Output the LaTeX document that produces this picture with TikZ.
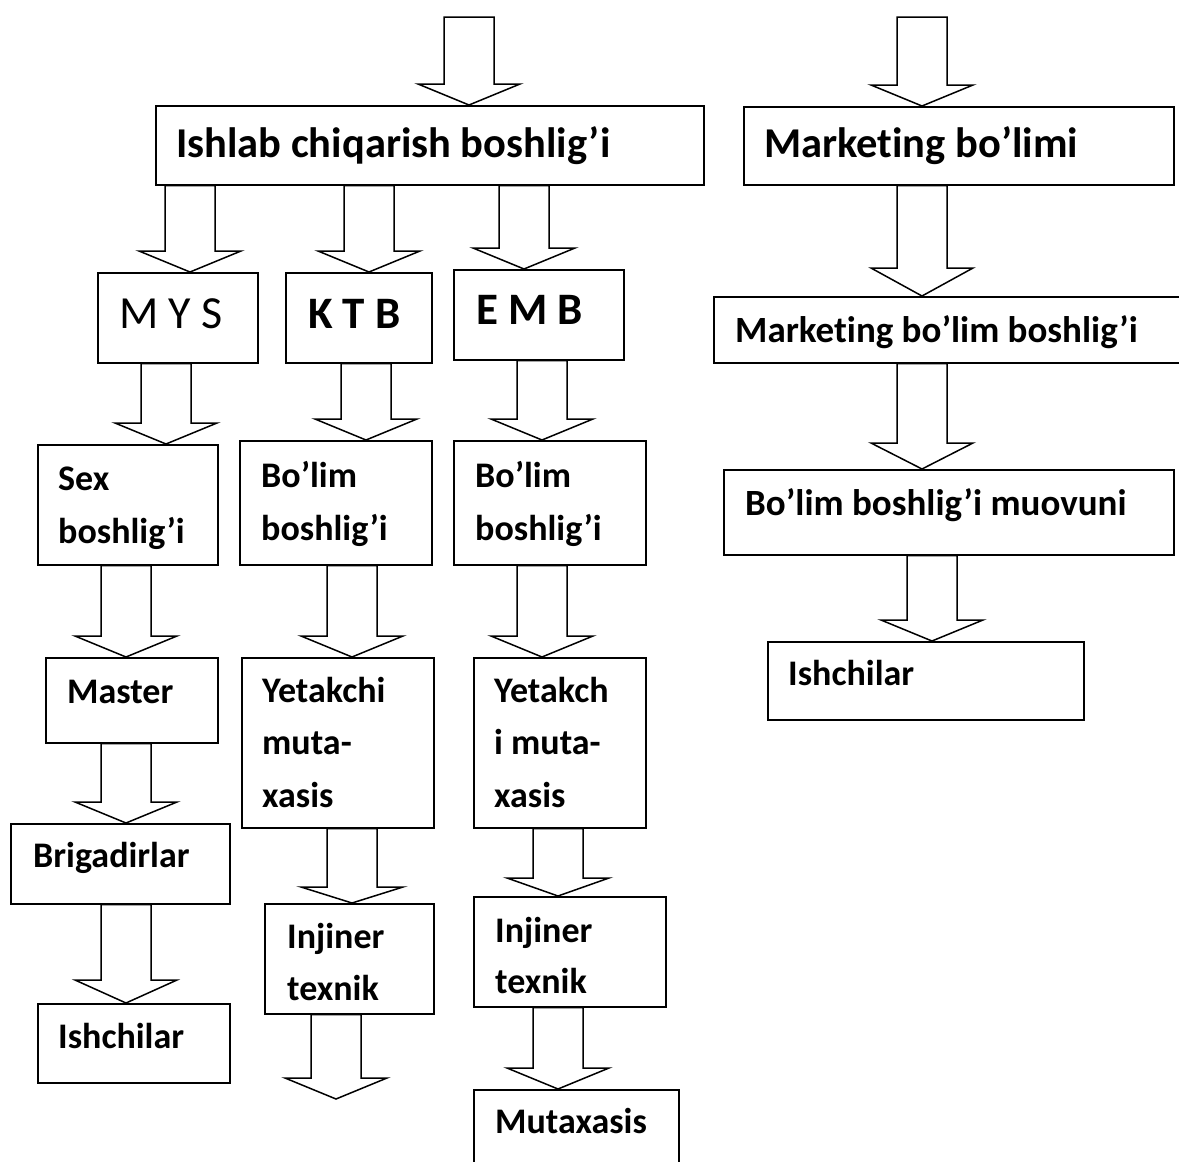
\documentclass[tikz,border=0pt]{standalone}
\usepackage{fontspec}
\setmainfont{Carlito}[RawFeature=-liga]
\usetikzlibrary{calc}

\tikzset{
  box/.style={draw=black, line width=1.5pt, fill=white, rectangle, inner sep=0pt, anchor=north west},
  blockarrow/.style={draw=black, line width=1.5pt, fill=white, line join=miter},
  lbl/.style={anchor=base west, inner sep=0pt, font=\fontsize{36}{40}\selectfont\bfseries},
  title/.style={lbl, font=\fontsize{42.5}{48}\selectfont\bfseries},
  mid/.style={lbl, font=\fontsize{37}{42}\selectfont\bfseries},
  code/.style={lbl, font=\fontsize{46}{52}\selectfont},
  boldcode/.style={lbl, font=\fontsize{45}{52}\selectfont\bfseries}
}

% box: name, left, top, right, bottom
\newcommand\orgbox[5]{%
  \node[box, minimum width={(#4-#2)*1pt}, minimum height={(#5-#3)*1pt}] (#1) at (#2,#3) {};}

% hollow block arrow: [head length] shaft centre x, start point, tip point
\newcommand\barrow[4][21]{%
  \draw[blockarrow] let \p1=(#3), \p2=(#4) in
    ({#2pt-25pt},\y1) -- ({#2pt-25pt},\y2+#1pt) -- ({#2pt-51pt},\y2+#1pt) --
    (#2pt,\y2) -- ({#2pt+51pt},\y2+#1pt) -- ({#2pt+25pt},\y2+#1pt) --
    ({#2pt+25pt},\y1) -- cycle;}

\begin{document}
\begin{tikzpicture}[x=1pt, y=-1pt]
\clip (0,0) rectangle (1179,1162);
\fill[white] (0,0) rectangle (1179,1162);

% free ends of the open arrows
\coordinate (inL) at (469,17);
\coordinate (inR) at (922,17);
\coordinate (outK) at (336,1099);

% boxes
\orgbox{ishlab}{155}{105}{703}{184}
\orgbox{mkt}{743}{106}{1173}{184}
\orgbox{mktb}{713}{296}{1190}{362}
\orgbox{muov}{723}{469}{1173}{554}
\orgbox{ishR}{767}{641}{1083}{719}
\orgbox{mys}{97}{272}{257}{362}
\orgbox{ktb}{285}{272}{431}{362}
\orgbox{emb}{453}{269}{623}{359}
\orgbox{sex}{37}{444}{217}{564}
\orgbox{bolK}{239}{440}{431}{564}
\orgbox{bolE}{453}{440}{645}{564}
\orgbox{master}{45}{657}{217}{742}
\orgbox{yetK}{241}{657}{433}{827}
\orgbox{yetE}{473}{657}{645}{827}
\orgbox{brig}{10}{823}{229}{903}
\orgbox{injK}{264}{903}{433}{1013}
\orgbox{injE}{473}{896}{665}{1006}
\orgbox{ishL}{37}{1003}{229}{1082}
\orgbox{mut}{473}{1089}{678}{1180}

% texts
\node[title] (t-ishlab) at (176,157) {Ishlab chiqarish boshlig’i};
\node[title] (t-mkt) at (764,157) {Marketing bo’limi};
\node[mid] (t-mktb) at (735,342) {Marketing bo’lim boshlig’i};
\node[mid] (t-muov) at (745,515) {Bo’lim boshlig’i muovuni};
\node[lbl] (t-ishR) at (788,685) {Ishchilar};
\node[code] (t-mys) at (119,328) {M Y S};
\node[boldcode] (t-ktb) at (308,328) {K T B};
\node[boldcode] (t-emb) at (476,324) {E M B};
\node[lbl] (t-sex1) at (58,490) {Sex};
\node[lbl] (t-sex2) at (58,543) {boshlig’i};
\node[lbl] (t-bolK1) at (261,487) {Bo’lim};
\node[lbl] (t-bolK2) at (261,540) {boshlig’i};
\node[lbl] (t-bolE1) at (475,487) {Bo’lim};
\node[lbl] (t-bolE2) at (475,540) {boshlig’i};
\node[lbl] (t-master) at (67,703) {Master};
\node[lbl] (t-yetK1) at (262,702) {Yetakchi};
\node[lbl] (t-yetK2) at (262,754) {muta-};
\node[lbl] (t-yetK3) at (262,807) {xasis};
\node[lbl] (t-yetE1) at (494,702) {Yetakch};
\node[lbl] (t-yetE2) at (494,754) {i muta-};
\node[lbl] (t-yetE3) at (494,807) {xasis};
\node[lbl] (t-brig) at (33,867) {Brigadirlar};
\node[lbl] (t-injK1) at (287,948) {Injiner};
\node[lbl] (t-injK2) at (287,1000) {texnik};
\node[lbl] (t-injE1) at (495,942) {Injiner};
\node[lbl] (t-injE2) at (495,993) {texnik};
\node[lbl] (t-ishL) at (58,1048) {Ishchilar};
\node[lbl] (t-mut) at (495,1133) {Mutaxasis};

% arrows
\barrow{469}{inL}{ishlab.north}
\barrow{922}{inR}{mkt.north}
\barrow{190}{ishlab.south}{mys.north}
\barrow{369}{ishlab.south}{ktb.north}
\barrow{524}{ishlab.south}{emb.north}
\barrow[28]{922}{mkt.south}{mktb.north}
\barrow[26]{922}{mktb.south}{muov.north}
\barrow{932}{muov.south}{ishR.north}
\barrow{166}{mys.south}{sex.north}
\barrow{366}{ktb.south}{bolK.north}
\barrow{542}{emb.south}{bolE.north}
\barrow{126}{sex.south}{master.north}
\barrow{352}{bolK.south}{yetK.north}
\barrow{542}{bolE.south}{yetE.north}
\barrow{126}{master.south}{brig.north}
\barrow[16]{352}{yetK.south}{injK.north}
\barrow[18]{558}{yetE.south}{injE.north}
\barrow[23]{126}{brig.south}{ishL.north}
\barrow{336}{injK.south}{outK}
\barrow{558}{injE.south}{mut.north}
\end{tikzpicture}
\end{document}
